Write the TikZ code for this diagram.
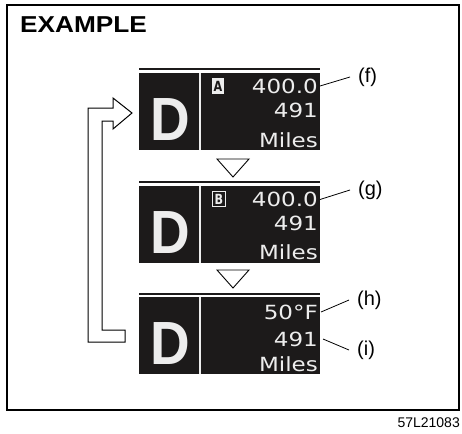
\documentclass[tikz,border=0pt]{standalone}
\usepackage{fontspec}
\setmainfont{Liberation Sans}
\newfontfamily\lcdfont{DejaVu Sans}
\newfontfamily\bigfont{Liberation Sans}
\definecolor{lcdbg}{HTML}{1C1A1A}
\definecolor{lcdfg}{HTML}{EDEDED}
\begin{document}
\begin{tikzpicture}[x=1pt,y=-1pt,
  screen/.style={fill=lcdbg, draw=none, minimum width=181pt, minimum height=77pt, inner sep=0pt, anchor=north west},
  topbar/.style={line width=2pt, draw=lcdbg},
  divider/.style={line width=1.3pt, draw=lcdfg},
  bigD/.style={text=lcdfg, font=\bigfont\bfseries\fontsize{61}{61}\selectfont, inner sep=0pt},
  val/.style={text=lcdfg, font=\lcdfont\fontsize{19.5}{19.5}\selectfont, inner sep=0pt, anchor=east},
  modeA/.style={fill=lcdfg, text=lcdbg, font=\lcdfont\bfseries\fontsize{14}{14}\selectfont, minimum width=12pt, minimum height=15pt, inner sep=0pt},
  modeB/.style={draw=lcdfg, line width=1pt, text=lcdfg, font=\lcdfont\bfseries\fontsize{14}{14}\selectfont, minimum width=13pt, minimum height=15pt, inner sep=0pt},
  lab/.style={font=\fontsize{20}{20}\selectfont, inner xsep=8pt, inner ysep=0pt, anchor=west},
  leader/.style={line width=0.8pt},
  tri/.style={draw, line width=0.9pt, fill=white},
]
\useasboundingbox (0,0) rectangle (462,433);
\draw[line width=2pt] (7,5) rectangle (459,410);
\node[anchor=base west, font=\bfseries\fontsize{23}{23}\selectfont, inner sep=0pt] (title) at (20,33) {\scalebox{1.14}[1]{EXAMPLE}};
\node[anchor=base east, font=\fontsize{14}{14}\selectfont, inner sep=0pt] (code) at (460,427) {57L21083};

% display 1
\draw[topbar] (139,69) -- (320,69);
\node[screen] (s1) at (139,73) {};
\draw[divider] (200,73) -- (200,150);
\node[bigD] (d1) at (170,119.5) {\scalebox{0.9}[1]{D}};
\node[modeA] (m1) at (218,86) {\scalebox{0.8}[1]{A}};
\node[val] (v1) at (318,86) {\scalebox{1.18}[1]{400.0}};
\node[val] (n1) at (318,110.5) {\scalebox{1.18}[1]{491}};
\node[val] (u1) at (318,140) {\scalebox{1.18}[1]{Miles}};
\node[lab] (f) at (350,77) {(f)};
\draw[leader] ([xshift=2pt]v1.east) -- (f.west);

\draw[tri] (217,159) -- (249,159) -- (233,177) -- cycle;

% display 2
\draw[topbar] (139,182) -- (320,182);
\node[screen] (s2) at (139,186) {};
\draw[divider] (200,186) -- (200,263);
\node[bigD] (d2) at (170,232.5) {\scalebox{0.9}[1]{D}};
\node[modeB] (m2) at (219,199) {\scalebox{0.8}[1]{B}};
\node[val] (v2) at (318,199.5) {\scalebox{1.18}[1]{400.0}};
\node[val] (n2) at (318,223) {\scalebox{1.18}[1]{491}};
\node[val] (u2) at (318,252.5) {\scalebox{1.18}[1]{Miles}};
\node[lab] (g) at (350,190) {(g)};
\draw[leader] ([xshift=2pt]v2.east) -- (g.west);

\draw[tri] (217,270) -- (249,270) -- (233,288) -- cycle;

% display 3
\draw[topbar] (139,293.5) -- (320,293.5);
\node[screen] (s3) at (139,297) {};
\draw[divider] (200,297) -- (200,374);
\node[bigD] (d3) at (170,343.5) {\scalebox{0.9}[1]{D}};
\node[val] (t3) at (318,312) {\scalebox{1.18}[1]{50°F}};
\node[val] (n3) at (318,339) {\scalebox{1.18}[1]{491}};
\node[val] (u3) at (318,364.5) {\scalebox{1.18}[1]{Miles}};
\node[lab] (h) at (349,300) {(h)};
\node[lab] (i) at (349,350) {(i)};
\draw[leader] ([xshift=3pt]t3.east) -- (h.west);
\draw[leader] ([xshift=5pt]n3.east) -- (i.west);

% loop arrow
\draw[line width=1pt, fill=white] (125,330) -- (102,330) -- (102,121) -- (113,121) -- (113,129) -- (132,113) -- (113,98) -- (113,108) -- (88,108) -- (88,342) -- (125,342) -- cycle;
\end{tikzpicture}
\end{document}
